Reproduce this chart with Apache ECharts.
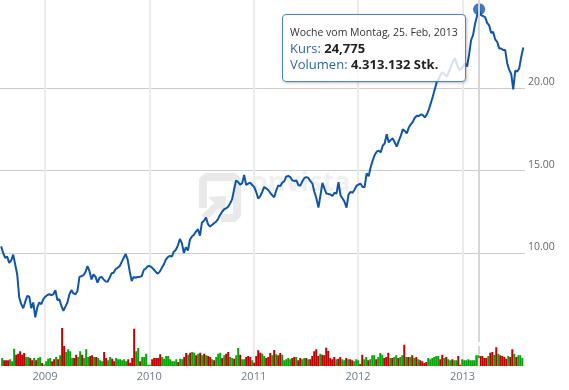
<!DOCTYPE html>
<html><head><meta charset="utf-8">
<script src="https://cdn.jsdelivr.net/npm/echarts@6/dist/echarts.min.js"></script>
<style>html,body{margin:0;padding:0;background:#fff}#c{width:569px;height:390px}</style>
</head><body><div id="c"></div>
<script>
// Weekly data, first week starting Monday 2008-08-04
const firstWeek = [2008, 7, 4];
const prices = [
 10.4,10.0,9.7,9.78,9.4,9.55,9.9,9.3,8.7,7.3,
 6.9,6.65,7.05,7.4,7.35,6.65,7.0,6.1,6.7,7.0,
 6.9,7.2,7.35,7.45,7.5,7.45,7.5,7.75,7.15,7.2,
 6.8,6.5,6.75,7.0,7.5,7.75,7.55,7.5,7.7,8.55,
 8.6,8.65,8.85,9.2,8.9,8.4,8.7,8.55,8.2,8.5,
 8.55,8.4,8.28,8.25,8.5,8.77,8.8,9.03,9.1,9.2,
 9.45,9.7,9.94,9.6,8.9,8.3,8.55,8.5,8.55,8.55,
 8.6,8.97,9.05,9.2,9.21,9.13,9.0,8.85,8.75,8.87,
 9.1,9.3,9.6,9.75,9.82,9.78,10.08,10.2,10.45,10.85,
 10.6,10.0,10.35,10.15,10.8,11.0,11.1,11.3,11.44,11.05,
 11.85,11.95,12.15,11.75,11.6,11.7,11.8,11.9,12.05,12.3,
 12.5,12.65,12.7,12.8,13.0,13.25,13.85,14.4,14.3,14.15,
 14.22,14.73,14.12,14.2,14.26,14.12,14.0,13.7,13.3,13.45,
 13.7,14.0,13.92,13.82,13.65,13.5,13.38,13.8,14.1,14.05,
 14.27,14.35,14.64,14.67,14.6,14.4,14.36,14.4,14.12,14.08,
 14.35,14.55,14.6,14.55,14.35,14.2,13.7,13.3,12.75,13.5,
 14.25,13.9,13.6,13.58,13.55,13.45,13.65,13.6,14.3,13.5,
 13.3,13.1,12.75,13.55,13.7,13.65,13.85,14.08,14.15,14.2,
 14.0,14.0,14.83,14.65,15.2,15.6,15.94,16.14,16.2,16.1,
 16.5,16.65,17.2,16.7,16.85,16.95,16.7,16.45,16.8,17.1,
 17.5,17.4,17.25,17.6,17.8,17.95,18.2,18.32,18.3,18.4,
 18.36,18.22,18.4,18.7,19.1,19.5,19.95,20.4,20.55,20.85,
 20.95,20.8,20.7,21.0,21.3,21.65,21.8,21.45,21.1,21.15,
 21.3,21.5,21.3,22.0,22.9,23.2,23.9,24.4,24.775,24.4,
 24.36,24.3,23.95,23.8,23.35,23.4,22.95,22.8,22.4,22.4,
 22.3,22.3,21.5,21.1,20.85,19.92,21.05,21.0,21.2,21.9,22.45
];
// weekly volume, millions of shares
const volumes = [
 3.2,2.3,2.3,2.3,2.7,1.9,6.9,4.5,4.9,5.9,
 4.5,5.2,3.6,3.6,3.2,2.3,3.2,2.3,3.2,3.6,
 1.2,0.5,1.9,2.9,3.2,1.9,2.7,3.6,2.7,4.3,
 15.2,8.0,5.6,6.7,5.9,3.2,3.2,4.5,3.6,5.9,
 4.5,3.2,6.7,3.6,4.0,4.3,3.6,3.6,3.2,2.3,
 1.9,5.6,3.2,2.3,3.6,2.9,1.9,3.2,2.7,2.7,
 2.3,2.7,1.9,2.7,1.3,3.2,14.9,5.9,7.2,1.9,
 3.6,3.6,4.9,0.5,0.5,2.7,3.2,3.2,3.2,4.7,
 3.6,2.9,4.0,4.0,2.7,1.9,1.9,2.7,1.6,2.9,
 2.7,3.6,5.2,4.5,5.3,5.6,5.3,4.3,4.9,5.3,
 4.3,4.9,4.3,4.0,3.6,2.7,2.3,3.6,4.9,5.3,
 3.2,4.3,4.9,5.6,3.6,3.2,2.9,4.3,7.2,4.5,
 2.7,2.7,3.6,4.0,3.6,2.3,1.3,4.0,6.3,5.3,
 4.9,4.0,3.2,3.6,5.2,4.3,6.4,4.7,4.3,5.2,
 4.5,2.3,2.7,3.2,2.7,3.2,3.6,3.6,2.3,3.2,
 2.7,3.2,3.2,2.7,2.7,4.0,5.9,6.7,4.0,4.9,
 4.5,4.3,7.3,6.0,3.2,2.7,3.6,2.7,2.9,3.6,
 2.7,2.3,3.2,2.7,2.7,2.3,1.9,2.7,2.3,0.8,
 4.5,2.7,3.6,2.3,2.7,4.3,4.3,2.7,3.6,5.2,
 4.5,3.2,3.6,5.3,3.2,3.2,3.6,4.3,3.2,3.6,
 4.3,8.5,3.6,3.6,3.6,4.3,3.2,3.6,2.7,2.3,
 1.9,1.2,1.6,3.2,2.7,3.2,3.6,4.0,4.0,2.7,
 4.5,3.2,3.6,2.7,2.3,2.7,2.3,2.3,4.0,0.5,
 2.7,2.3,2.3,2.7,2.3,2.3,2.3,4.3,4.313132,4.0,
 4.0,3.2,3.2,4.0,5.3,5.6,4.5,7.5,4.9,4.3,
 4.0,3.6,2.9,4.0,3.6,6.7,4.9,3.6,4.3,4.3,3.2
];
// week direction: G = up, R = down
const weekDir =
 'GRRRGGGRRR'+'RRGGRRGRGG'+'RGGGGRRGRG'+'RRGGGGRRGG'+'RGGGRRGRGG'+
 'GRRGGRRGGG'+'GGGRRRRGGR'+'GGGGGRRRRR'+'GGGGGGGGRG'+'GRRGRGGRGR'+
 'GRGRRGRGGG'+'RGRRGGRGGR'+'GGRRRGRRRR'+'GGRRRGRGRR'+'GGGGGRRGRR'+
 'GGRGRRRRRG'+'RRRRRRRGRR'+'GGRGRRGGGR'+'RGGRGGGRGG'+'GRRRGRGGRG'+
 'GRGRGRGRGR'+'RRRGGGGGGR'+'RGRGGRGGRR'+'GGGGGGGGGR'+'RRRGRRGRGR'+
 'RRRGRRGRGGG';
const yearTicks = ['2009','2010','2011','2012','2013'];
const priceTicks = [10, 15, 20];
const highlightIndex = 238;
const monthsDe = ['Jan','Feb','Mär','Apr','Mai','Jun','Jul','Aug','Sep','Okt','Nov','Dez'];

const DAY = 86400000;
const t0 = Date.UTC(firstWeek[0], firstWeek[1], firstWeek[2]);
const dates = prices.map((_, i) => t0 + i * 7 * DAY);
const xMin = Date.UTC(2008, 6, 31), xMax = Date.UTC(2013, 7, 4);

const FONT = '"Open Sans", "DejaVu Sans", sans-serif';
const BLUE = '#0e4f9b';
const GREEN = '#0aa20a', RED = '#c00000';

function fmtInt(n){ return String(n).replace(/\B(?=(\d{3})+(?!\d))/g, '.'); }

const chart = echarts.init(document.getElementById('c'), null, {renderer: 'canvas'});
chart.setOption({
  useUTC: true,
  animation: false,
  backgroundColor: '#ffffff',
  textStyle: {fontFamily: FONT},
  axisPointer: {link: [{xAxisIndex: 'all'}]},
  grid: [
    {left: 0, right: 44, top: 5.5, height: 330},
    {left: 0, right: 44, top: 0, height: 366}
  ],
  graphic: [
    {type: 'group', z: 0, silent: true, children: [
      {type: 'polyline', shape: {points: [[203,208],[203,180],[206,177],[234,177],[237,180],[237,215],[234,218],[221,218]]},
        style: {stroke: '#e9e9e9', lineWidth: 8, fill: null, lineJoin: 'round'}},
      {type: 'line', shape: {x1: 204, y1: 218, x2: 218, y2: 204}, style: {stroke: '#e9e9e9', lineWidth: 7}},
      {type: 'polygon', shape: {points: [[208,197],[226,196],[225,213]]}, style: {fill: '#e9e9e9'}}
    ]},
    {type: 'text', z: 0, silent: true, left: 251, top: 170,
      style: {text: 'onvista', fontSize: 27, fontWeight: 'bold', fill: '#f0f0f0', fontFamily: FONT}}
  ],
  xAxis: [
    {type: 'time', gridIndex: 0, min: xMin, max: xMax,
      axisLine: {show: false}, axisTick: {show: false}, axisLabel: {show: false}, splitLine: {show: false},
      axisPointer: {show: true, type: 'line', label: {show: false}, lineStyle: {color: '#d6d6d6', width: 2}}},
    {type: 'time', gridIndex: 1, min: xMin, max: xMax,
      minInterval: 365 * DAY, maxInterval: 366 * DAY,
      axisLine: {show: false}, axisTick: {show: false},
      axisLabel: {show: true, margin: 5, color: '#6b7a89', fontSize: 11, fontFamily: FONT,
        showMinLabel: false, showMaxLabel: false,
        formatter: v => { const s = String(new Date(v).getUTCFullYear()); return yearTicks.indexOf(s) >= 0 && new Date(v).getUTCMonth() === 0 ? s : ''; }},
      splitLine: {show: true, showMinLine: false, showMaxLine: false, lineStyle: {color: '#ebebeb', width: 2}},
      axisPointer: {show: true, type: 'line', label: {show: false}, lineStyle: {color: '#d6d6d6', width: 2}}}
  ],
  yAxis: [
    {type: 'value', gridIndex: 0, position: 'right', min: 5, max: 25, interval: 5,
      axisLine: {show: false}, axisTick: {show: false},
      axisLabel: {margin: 3, color: '#666', fontSize: 10.5, fontFamily: FONT, verticalAlign: 'bottom',
        formatter: v => priceTicks.indexOf(v) >= 0 ? v.toFixed(2) : ''},
      splitLine: {show: true, lineStyle: {color: ['rgba(0,0,0,0)', '#cccccc', '#cccccc', '#cccccc', 'rgba(0,0,0,0)'], width: 1}}},
    {type: 'value', gridIndex: 1, min: 0, max: 146.4, show: false, splitLine: {show: false}}
  ],
  tooltip: {
    trigger: 'axis', triggerOn: 'none', alwaysShowContent: true, transitionDuration: 0,
    position: [282, 14], confine: false,
    backgroundColor: 'rgba(255,255,255,0.82)', borderColor: '#4f83bd', borderWidth: 1, padding: [10, 7, 9, 7],
    extraCssText: 'border-radius:4px;box-shadow:1px 1px 3px rgba(0,0,0,0.25);',
    formatter: function(params){
      const av = params[0].axisValue;
      let i = 0, best = Infinity;
      dates.forEach((d, k) => { const dd = Math.abs(d - av); if (dd < best) { best = dd; i = k; } });
      const d = new Date(dates[i]);
      const l1 = 'Woche vom Montag, ' + d.getUTCDate() + '. ' + monthsDe[d.getUTCMonth()] + ', ' + d.getUTCFullYear();
      const l2 = prices[i].toFixed(3).replace('.', ',');
      const l3 = fmtInt(Math.round(volumes[i] * 1e6)) + ' Stk.';
      const ff = FONT.replace(/"/g, "'");
      return '<div style="font-family:' + ff + ';white-space:nowrap;margin:0;padding:0">' +
        '<div style="font-size:10.5px;line-height:15px;height:15px;color:#333">' + l1 + '</div>' +
        '<div style="font-size:13px;line-height:16px;height:16px;color:#2d66a8">Kurs: <b style="color:#222">' + l2 + '</b></div>' +
        '<div style="font-size:13px;line-height:16px;height:16px;color:#2d66a8">Volumen: <b style="color:#222">' + l3 + '</b></div></div>';
    }
  },
  series: [
    {type: 'line', name: 'Kurs', xAxisIndex: 0, yAxisIndex: 0, symbol: 'none', z: 5,
      lineStyle: {color: BLUE, width: 2}, data: dates.map((d, i) => [d, prices[i]])},
    {type: 'bar', name: 'Volumen', xAxisIndex: 1, yAxisIndex: 1, barWidth: 2, z: 3,
      data: dates.map((d, i) => ({value: [d, volumes[i]], itemStyle: {color: weekDir[i] === 'G' ? GREEN : RED}}))},
    {type: 'scatter', xAxisIndex: 0, yAxisIndex: 0, symbol: 'circle', symbolSize: 11, z: 6,
      itemStyle: {color: BLUE}, data: [[dates[highlightIndex], prices[highlightIndex]]]}
  ]
});
chart.dispatchAction({type: 'showTip', seriesIndex: 0, dataIndex: highlightIndex});
</script></body></html>
